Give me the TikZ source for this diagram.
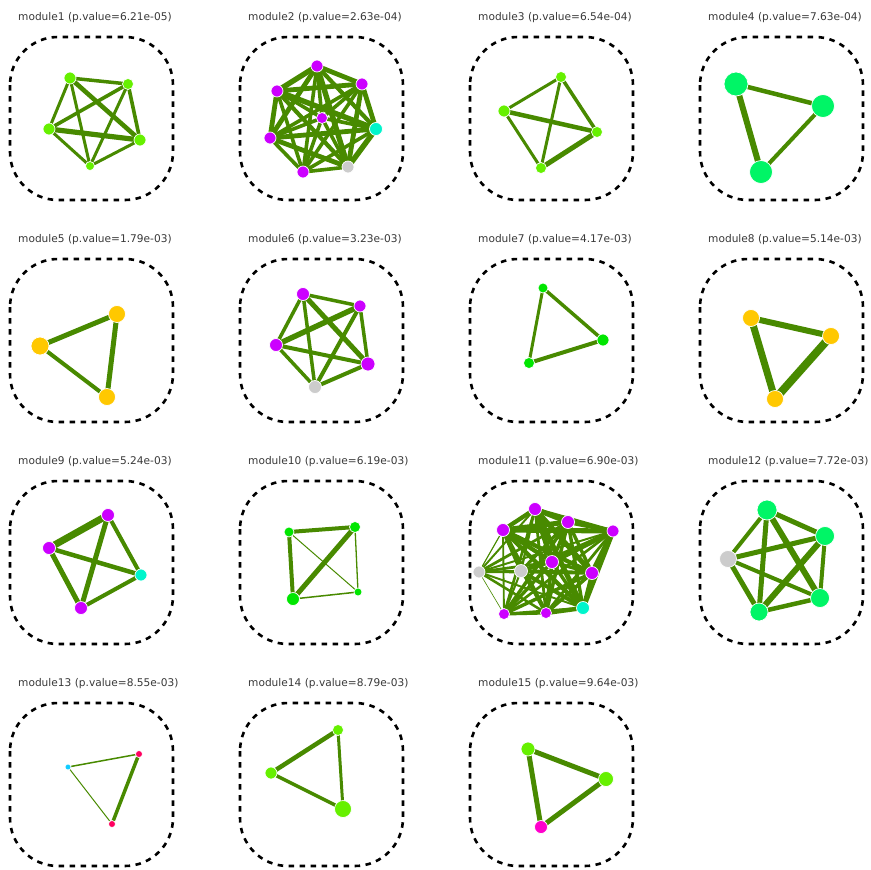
\documentclass[tikz,border=0pt]{standalone}
\usepackage{fontspec}
\setmainfont{DejaVu Sans}
\usetikzlibrary{backgrounds}

\definecolor{colarco}{HTML}{488A00}
\definecolor{verdeA}{HTML}{66F000}
\definecolor{verdeB}{HTML}{00F566}
\definecolor{verdeC}{HTML}{00E600}
\definecolor{viola}{HTML}{CC00FF}
\definecolor{ciano}{HTML}{00F5CC}
\definecolor{grigio}{HTML}{CCCCCC}
\definecolor{arancio}{HTML}{FFC800}
\definecolor{azzurro}{HTML}{11CCFF}
\definecolor{rosso}{HTML}{FF0060}
\definecolor{fucsia}{HTML}{FF00CC}

\begin{document}
\begin{tikzpicture}[
    x=1pt, y=-1pt,
    titolo/.style={anchor=base west, inner sep=0pt, text=black!78,
                   font=\fontsize{10.6}{12}\selectfont},
    cornice/.style={draw=black, line width=2.6pt,
                    dash pattern=on 5.5pt off 5.5pt, rounded corners=48pt},
    nodo/.style={circle, draw=white, line width=0.7pt, inner sep=0pt, minimum size=#1},
    arco/.style={draw=colarco, line width=#1}
  ]
  \useasboundingbox (0,0) rectangle (870,870);

  % --- Titoli e cornici tratteggiate (griglia 4x4) ---
  \foreach \pv [count=\i] in {6.21e-05,2.63e-04,6.54e-04,7.63e-04,1.79e-03,
      3.23e-03,4.17e-03,5.14e-03,5.24e-03,6.19e-03,6.90e-03,7.72e-03,
      8.55e-03,8.79e-03,9.64e-03} {
    \pgfmathsetmacro\cx{230*mod(\i-1,4)}
    \pgfmathsetmacro\cy{222*int((\i-1)/4)}
    \node[titolo] (titolo\i) at (\cx+18,\cy+20) {module\i\ (p.value=\pv)};
    \draw[cornice] (\cx+10,\cy+37) rectangle (\cx+173,\cy+200);
  }

  % --- module1 ---
  \node[nodo=12, fill=verdeA] (m1a) at (70,78) {};
  \node[nodo=11, fill=verdeA] (m1b) at (128,84) {};
  \node[nodo=12, fill=verdeA] (m1c) at (49,129) {};
  \node[nodo=12, fill=verdeA] (m1d) at (140,140) {};
  \node[nodo=9,  fill=verdeA] (m1e) at (90,166) {};

  % --- module2 ---
  \node[nodo=12, fill=viola]  (m2a) at (317,66) {};
  \node[nodo=12, fill=viola]  (m2b) at (362,84) {};
  \node[nodo=12, fill=viola]  (m2c) at (277,91) {};
  \node[nodo=11, fill=viola]  (m2d) at (322,118) {};
  \node[nodo=13, fill=ciano]  (m2e) at (376,129) {};
  \node[nodo=12, fill=viola]  (m2f) at (270,138) {};
  \node[nodo=12, fill=grigio] (m2g) at (348,167) {};
  \node[nodo=12, fill=viola]  (m2h) at (303,172) {};

  % --- module3 ---
  \node[nodo=11, fill=verdeA] (m3a) at (561,77) {};
  \node[nodo=12, fill=verdeA] (m3b) at (504,111) {};
  \node[nodo=11, fill=verdeA] (m3c) at (597,132) {};
  \node[nodo=11, fill=verdeA] (m3d) at (541,168) {};

  % --- module4 ---
  \node[nodo=24, fill=verdeB] (m4a) at (736,84) {};
  \node[nodo=23, fill=verdeB] (m4b) at (823,106) {};
  \node[nodo=23, fill=verdeB] (m4c) at (761,172) {};

  % --- module5 ---
  \node[nodo=17, fill=arancio] (m5a) at (117,314) {};
  \node[nodo=18, fill=arancio] (m5b) at (40,346) {};
  \node[nodo=17, fill=arancio] (m5c) at (107,397) {};

  % --- module6 ---
  \node[nodo=13, fill=viola]  (m6a) at (303,294) {};
  \node[nodo=12, fill=viola]  (m6b) at (360,306) {};
  \node[nodo=13, fill=viola]  (m6c) at (276,345) {};
  \node[nodo=14, fill=viola]  (m6d) at (368,364) {};
  \node[nodo=13, fill=grigio] (m6e) at (315,387) {};

  % --- module7 ---
  \node[nodo=10, fill=verdeC] (m7a) at (543,288) {};
  \node[nodo=12, fill=verdeC] (m7b) at (603,340) {};
  \node[nodo=11, fill=verdeC] (m7c) at (529,363) {};

  % --- module8 ---
  \node[nodo=17, fill=arancio] (m8a) at (751,318) {};
  \node[nodo=17, fill=arancio] (m8b) at (831,336) {};
  \node[nodo=17, fill=arancio] (m8c) at (775,399) {};

  % --- module9 ---
  \node[nodo=13, fill=viola] (m9a) at (108,515) {};
  \node[nodo=13, fill=viola] (m9b) at (49,548) {};
  \node[nodo=12, fill=ciano] (m9c) at (141,575) {};
  \node[nodo=13, fill=viola] (m9d) at (81,608) {};

  % --- module10 ---
  \node[nodo=10, fill=verdeC] (m10a) at (289,532) {};
  \node[nodo=11, fill=verdeC] (m10b) at (355,527) {};
  \node[nodo=13, fill=verdeC] (m10c) at (293,599) {};
  \node[nodo=8,  fill=verdeC] (m10d) at (358,592) {};

  % --- module11 ---
  \node[nodo=13, fill=viola]  (m11a) at (535,509) {};
  \node[nodo=13, fill=viola]  (m11b) at (568,522) {};
  \node[nodo=13, fill=viola]  (m11c) at (503,530) {};
  \node[nodo=12, fill=viola]  (m11d) at (613,531) {};
  \node[nodo=13, fill=viola]  (m11e) at (552,562) {};
  \node[nodo=12, fill=grigio] (m11f) at (479,572) {};
  \node[nodo=13, fill=grigio] (m11g) at (521,571) {};
  \node[nodo=13, fill=viola]  (m11h) at (592,573) {};
  \node[nodo=11, fill=viola]  (m11i) at (504,614) {};
  \node[nodo=11, fill=viola]  (m11j) at (546,613) {};
  \node[nodo=13, fill=ciano]  (m11k) at (583,608) {};

  % --- module12 ---
  \node[nodo=20, fill=verdeB] (m12a) at (767,510) {};
  \node[nodo=19, fill=verdeB] (m12b) at (825,536) {};
  \node[nodo=17, fill=grigio] (m12c) at (728,559) {};
  \node[nodo=19, fill=verdeB] (m12d) at (820,598) {};
  \node[nodo=18, fill=verdeB] (m12e) at (759,612) {};

  % --- module13 ---
  \node[nodo=6, fill=azzurro] (m13a) at (68,767) {};
  \node[nodo=7, fill=rosso]   (m13b) at (139,754) {};
  \node[nodo=7, fill=rosso]   (m13c) at (112,824) {};

  % --- module14 ---
  \node[nodo=11, fill=verdeA] (m14a) at (338,730) {};
  \node[nodo=12, fill=verdeA] (m14b) at (271,773) {};
  \node[nodo=17, fill=verdeA] (m14c) at (343,809) {};

  % --- module15 ---
  \node[nodo=14, fill=verdeA] (m15a) at (528,749) {};
  \node[nodo=15, fill=verdeA] (m15b) at (606,779) {};
  \node[nodo=13, fill=fucsia] (m15c) at (541,827) {};

  % --- Archi (sotto i nodi) ---
  \begin{pgfonlayer}{background}
    \foreach \u/\v/\w in {a/b/3.5, a/c/3, a/d/4.6, a/e/3, b/c/3.6,
        b/d/3.6, b/e/3, c/d/5.2, c/e/3, d/e/3}
      \draw[arco=\w] (m1\u.center) -- (m1\v.center);

    % grafo completo a 8 nodi
    \def\listaotto{a,b,c,d,e,f,g,h}
    \foreach \u [count=\i] in \listaotto {
      \foreach \v [count=\j] in \listaotto {
        \ifnum\j>\i
          \pgfmathsetmacro\w{3.6+mod(\i*\j,4)*0.6}
          \draw[arco=\w] (m2\u.center) -- (m2\v.center);
        \fi
      }
    }

    \foreach \u/\v/\w in {a/b/3, a/c/3.5, a/d/3, b/c/4.5, b/d/3, c/d/5}
      \draw[arco=\w] (m3\u.center) -- (m3\v.center);

    \foreach \u/\v/\w in {a/b/4.5, a/c/6, b/c/4}
      \draw[arco=\w] (m4\u.center) -- (m4\v.center);

    \foreach \u/\v/\w in {a/b/5, a/c/5, b/c/4}
      \draw[arco=\w] (m5\u.center) -- (m5\v.center);

    \foreach \u/\v/\w in {a/b/3.5, a/c/3.5, a/d/5, a/e/3.5, b/c/5.5,
        b/d/3.5, b/e/4, c/d/4, c/e/3.5, d/e/4}
      \draw[arco=\w] (m6\u.center) -- (m6\v.center);

    \foreach \u/\v/\w in {a/b/3.5, a/c/3, b/c/4}
      \draw[arco=\w] (m7\u.center) -- (m7\v.center);

    \foreach \u/\v/\w in {a/b/6, a/c/7, b/c/8}
      \draw[arco=\w] (m8\u.center) -- (m8\v.center);

    \foreach \u/\v/\w in {a/b/7, a/c/4, a/d/5, b/c/4.5, b/d/5, c/d/4}
      \draw[arco=\w] (m9\u.center) -- (m9\v.center);

    \foreach \u/\v/\w in {a/b/4, a/c/4, b/c/5, a/d/1, b/d/1.3, c/d/1.5}
      \draw[arco=\w] (m10\u.center) -- (m10\v.center);

    % grafo completo a 11 nodi, pesi per nodo
    \def\listaundici{a/3,b/3,c/3,d/3,e/3,f/1,g/2,h/3,i/1.6,j/2.4,k/3}
    \foreach \u/\wu [count=\i] in \listaundici {
      \foreach \v/\wv [count=\j] in \listaundici {
        \ifnum\j>\i
          \pgfmathsetmacro\w{\wu*\wv/2.6+mod(\i+2*\j,3)*0.8}
          \draw[arco=\w] (m11\u.center) -- (m11\v.center);
        \fi
      }
    }

    \foreach \u/\v/\w in {a/b/5, a/c/4, a/d/6, a/e/5, b/c/5, b/d/4,
        b/e/6, c/d/4, c/e/5, d/e/4.5}
      \draw[arco=\w] (m12\u.center) -- (m12\v.center);

    \foreach \u/\v/\w in {a/b/1.5, a/c/1, b/c/3.5}
      \draw[arco=\w] (m13\u.center) -- (m13\v.center);

    \foreach \u/\v/\w in {a/b/4.5, a/c/3, b/c/3.5}
      \draw[arco=\w] (m14\u.center) -- (m14\v.center);

    \foreach \u/\v/\w in {a/b/5, a/c/5, b/c/5}
      \draw[arco=\w] (m15\u.center) -- (m15\v.center);
  \end{pgfonlayer}

\end{tikzpicture}
\end{document}
